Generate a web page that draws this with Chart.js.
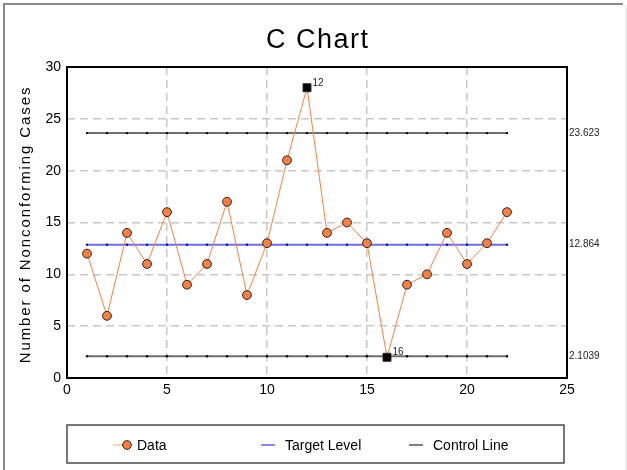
<!DOCTYPE html>
<html><head><meta charset="utf-8">
<script src="https://cdn.jsdelivr.net/npm/chart.js@4"></script>
<style>html,body{margin:0;padding:0;background:#fff;}</style>
</head><body>
<canvas id="c" width="627" height="470"></canvas>
<script>
const categories = [1,2,3,4,5,6,7,8,9,10,11,12,13,14,15,16,17,18,19,20,21,22];
const counts = [12,6,14,11,16,9,11,17,8,13,21,28,14,15,13,2,9,10,14,11,13,16];
const centerLine = 12.864;
const upperLimit = 23.623;
const lowerLimit = 2.1039;
const limitValues = [lowerLimit, centerLine, upperLimit];
const legendLabels = ['Data', 'Target Level', 'Control Line'];
const chartTitle = 'C Chart';
const yTitle = 'Number of Nonconforming Cases';

const FONT = '"Liberation Sans", Arial, sans-serif';
const isOut = v => v > upperLimit || v < lowerLimit;

const decor = {
  id: 'decor',
  beforeDraw(chart) {
    const ctx = chart.ctx;
    ctx.save();
    ctx.fillStyle = '#fff';
    ctx.fillRect(0, 0, chart.width, chart.height);
    ctx.lineWidth = 2;
    ctx.strokeStyle = '#8a8a8a';
    ctx.beginPath();
    ctx.moveTo(4, 470); ctx.lineTo(4, 4); ctx.lineTo(623, 4);
    ctx.stroke();
    ctx.strokeStyle = '#dcdcdc';
    ctx.lineWidth = 1;
    ctx.beginPath();
    ctx.moveTo(626, 5); ctx.lineTo(626, 470);
    ctx.stroke();
    ctx.restore();
  },
  afterDraw(chart) {
    const ctx = chart.ctx;
    const a = chart.chartArea;
    ctx.save();
    // plot frame
    ctx.strokeStyle = '#000';
    ctx.lineWidth = 2;
    ctx.strokeRect(a.left, a.top, a.right - a.left, a.bottom - a.top);
    // title
    ctx.fillStyle = '#000';
    ctx.font = '27px ' + FONT;
    ctx.textAlign = 'center';
    ctx.textBaseline = 'alphabetic';
    ctx.letterSpacing = '1.5px';
    ctx.fillText(chartTitle, (a.left + a.right) / 2 + 0.75, 48);
    // y title
    ctx.save();
    ctx.font = '15px ' + FONT;
    ctx.letterSpacing = '1.9px';
    ctx.translate(26, (a.top + a.bottom) / 2 + 2);
    ctx.rotate(-Math.PI / 2);
    ctx.textBaseline = 'middle';
    ctx.fillText(yTitle, 0, 0);
    ctx.restore();
    ctx.letterSpacing = '0px';
    // out-of-control annotations
    const meta = chart.getDatasetMeta(0);
    ctx.font = '10px ' + FONT;
    ctx.textAlign = 'left';
    ctx.fillStyle = '#222';
    counts.forEach((v, i) => {
      if (isOut(v)) {
        const p = meta.data[i];
        ctx.fillText(String(categories[i]), p.x + 5.5, p.y - 2);
      }
    });
    // legend
    ctx.strokeStyle = '#4a4a4a';
    ctx.lineWidth = 1.5;
    ctx.strokeRect(67, 425, 497, 38);
    const ly = 445;
    const colors = ['#ff7f3f', '#5c5cff', '#555555'];
    legendLabels.forEach((t, i) => {
      const x0 = 113 + i * 148;
      ctx.strokeStyle = i === 0 ? '#ffa070' : colors[i];
      ctx.lineWidth = i === 0 ? 1 : 1.5;
      ctx.beginPath();
      ctx.moveTo(x0, ly); ctx.lineTo(x0 + 14, ly);
      ctx.stroke();
      if (i === 0) {
        ctx.beginPath();
        ctx.arc(x0 + 14, ly, 4.3, 0, Math.PI * 2);
        ctx.fillStyle = '#ff7f3f';
        ctx.fill();
        ctx.strokeStyle = '#222';
        ctx.lineWidth = 1;
        ctx.stroke();
      }
      ctx.fillStyle = '#000';
      ctx.font = '14px ' + FONT;
      ctx.textBaseline = 'middle';
      ctx.fillText(t, x0 + 24, ly + 1);
    });
    ctx.restore();
  }
};

const gridOpts = { color: '#c8c8c8', lineWidth: 1.5, drawTicks: false };
const borderOpts = { display: false, dash: [8, 5] };

new Chart(document.getElementById('c'), {
  type: 'line',
  data: {
    datasets: [
      {
        label: legendLabels[0],
        data: categories.map((c, i) => ({ x: c, y: counts[i] })),
        borderColor: '#ff7f3f',
        borderWidth: 1,
        pointStyle: counts.map(v => isOut(v) ? 'rect' : 'circle'),
        pointRadius: counts.map(v => isOut(v) ? 5.6 : 4.4),
        pointBackgroundColor: counts.map(v => isOut(v) ? '#000' : '#ff7f3f'),
        pointBorderColor: '#222',
        pointBorderWidth: 1,
        tension: 0,
        order: 0
      },
      {
        label: legendLabels[1],
        data: categories.map(c => ({ x: c, y: centerLine })),
        borderColor: '#6b6bff',
        borderWidth: 2,
        pointRadius: 1.2,
        pointBackgroundColor: '#0000b0',
        pointBorderWidth: 0,
        order: 2
      },
      {
        label: legendLabels[2],
        data: categories.map(c => ({ x: c, y: upperLimit })),
        borderColor: '#6e6e6e',
        borderWidth: 2,
        pointRadius: 1.2,
        pointBackgroundColor: '#000',
        pointBorderWidth: 0,
        order: 3
      },
      {
        label: legendLabels[2],
        data: categories.map(c => ({ x: c, y: lowerLimit })),
        borderColor: '#6e6e6e',
        borderWidth: 2,
        pointRadius: 1.2,
        pointBackgroundColor: '#000',
        pointBorderWidth: 0,
        order: 3
      }
    ]
  },
  options: {
    responsive: false,
    animation: false,
    devicePixelRatio: 1,
    layout: { padding: { top: 67, left: 0, right: 0, bottom: 0 } },
    plugins: { legend: { display: false }, title: { display: false }, tooltip: { enabled: false } },
    scales: {
      x: {
        type: 'linear', min: 0, max: 25,
        ticks: { stepSize: 5, padding: 4, color: '#000', font: { family: FONT, size: 14 } },
        grid: gridOpts, border: borderOpts,
        afterFit(s) { s.height = 92; }
      },
      y: {
        type: 'linear', position: 'left', min: 0, max: 30,
        ticks: { stepSize: 5, padding: 6, color: '#000', font: { family: FONT, size: 14 } },
        grid: gridOpts, border: borderOpts,
        afterFit(s) { s.width = 67; }
      },
      y2: {
        type: 'linear', axis: 'y', position: 'right', min: 0, max: 30,
        grid: { display: false, drawTicks: false }, border: { display: false },
        ticks: { autoSkip: false, padding: 2, color: '#222', font: { family: FONT, size: 10 },
                 callback: v => String(v) },
        afterBuildTicks(s) { s.ticks = limitValues.map(v => ({ value: v })); },
        afterFit(s) { s.width = 60; }
      }
    }
  },
  plugins: [decor]
});
</script>
</body></html>
